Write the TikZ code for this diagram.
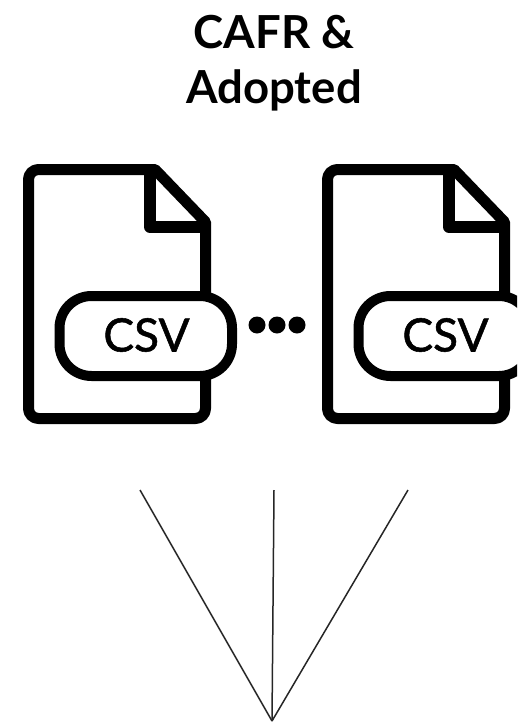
\documentclass[tikz,border=0pt]{standalone}
\usepackage{fontspec}
\setmainfont{Lato}
\newfontfamily\csvfont[FakeBold=1.2]{Lato}
\tikzset{
  ink/.style={draw=black,line width=11pt,line join=round},
  pill/.style={draw=black,fill=white,line width=10pt,rounded corners=32pt},
  csvtext/.style={font=\csvfont\fontsize{46}{46}\selectfont,text=black,inner sep=0pt,anchor=center},
  title/.style={font=\bfseries\fontsize{45.5}{55}\selectfont,text=black,align=center,inner sep=0pt},
  thin line/.style={draw=black!85,line width=1.5pt},
  dotmark/.style={circle,fill=black,inner sep=0pt,minimum size=17pt}
}
\begin{document}
\begin{tikzpicture}[x=1pt,y=-1pt]
\useasboundingbox (0,0) rectangle (517,725);
\clip (0,0) rectangle (517,725);
\node[title] (head) at (274,63.5) {CAFR \&\\Adopted};
\foreach \dx/\nm in {0/one,299/two}{
  \begin{scope}[xshift=\dx pt]
    \draw[ink] (100,169.5) -- (155,169.5) -- (205.5,222)
      [rounded corners=10pt] -- (205.5,418.5) -- (28.5,418.5) -- (28.5,169.5) -- (100,169.5);
    \draw[ink,line width=12pt] (150,172) -- (150,227) -- (205,227);
    \draw[pill] (59.5,296) rectangle (232,376);
    \node[csvtext] (csv\nm) at (146.5,335) {CSV};
  \end{scope}
}
\node[dotmark] (d1) at (257,325) {};
\node[dotmark] (d2) at (277,325) {};
\node[dotmark] (d3) at (297,325) {};
\coordinate (a) at (140,490);
\coordinate (b) at (274,490);
\coordinate (c) at (408,490);
\coordinate (m) at (272,721);
\draw[thin line] (a) -- (m);
\draw[thin line] (b) -- (m);
\draw[thin line] (c) -- (m);
\end{tikzpicture}
\end{document}
